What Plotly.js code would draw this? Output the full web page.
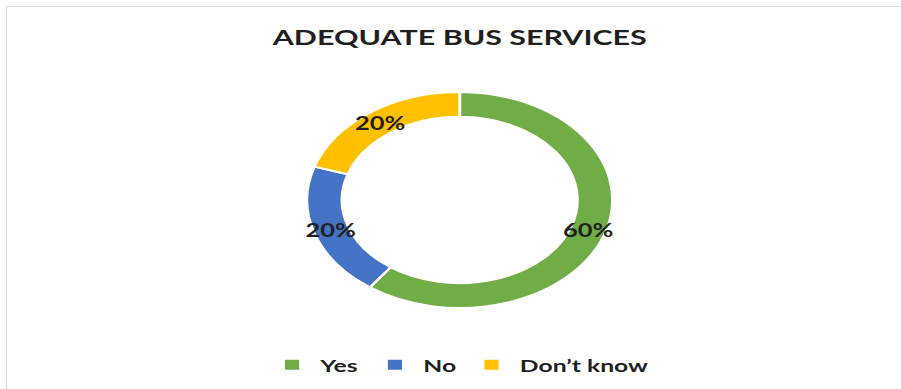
<!DOCTYPE html>
<html>
<head>
<meta charset="utf-8">
<script src="https://cdn.plot.ly/plotly-3.0.1.min.js"></script>
<style>
  html, body { margin: 0; padding: 0; background: #ffffff; overflow: hidden; }
  #frame { position: absolute; left: 6px; top: 6px; width: 1000px; height: 1000px;
           border-left: 1px solid #d9d9d9; border-top: 1px solid #d9d9d9; }
  #wrap { position: absolute; left: 0; top: 0; width: 901px; height: 389px; overflow: hidden; }
  #chart { position: absolute; left: 0; top: 0; width: 637px; height: 389px;
           transform: scaleX(1.4145); transform-origin: 0 0; }
</style>
</head>
<body>
<div id="frame"></div>
<div id="wrap"><div id="chart"></div></div>
<script>
const chartTitle = "ADEQUATE BUS SERVICES";
const categories = ["Yes", "No", "Don\u2019t know"];
const values = [60, 20, 20];
const colors = ["#70AD47", "#4472C4", "#FFC000"];

const fontFamily = "Lato, Open Sans, DejaVu Sans, sans-serif";
const W = 637, H = 389;
const margin = { l: 20, r: 7, t: 92, b: 80 };
const hole = 0.77;

const trace = {
  type: "pie",
  labels: categories,
  values: values,
  sort: false,
  direction: "clockwise",
  rotation: 0,
  hole: hole,
  marker: { colors: colors, line: { color: "#ffffff", width: 2 } },
  textinfo: "none",
  textposition: "none",
  hoverinfo: "label+percent"
};

// Percent labels centred on each slice's mid-angle, at mid-ring radius (derived from the data)
const plotW = W - margin.l - margin.r;
const plotH = H - margin.t - margin.b;
const radiusPx = Math.min(plotW, plotH) / 2;
const midR = radiusPx * (1 + hole) / 2;
const total = values.reduce((a, b) => a + b, 0);
let cum = 0;
const annotations = values.map((v) => {
  const mid = (cum + v / 2) / total * 2 * Math.PI;
  cum += v;
  return {
    xref: "paper", yref: "paper",
    x: 0.5 + midR * Math.sin(mid) / plotW,
    y: 0.5 + midR * Math.cos(mid) / plotH,
    text: "<b>" + Math.round(v / total * 100) + "%</b>",
    showarrow: false,
    font: { family: fontFamily, size: 18, color: "#1f1f1f" },
    xanchor: "center", yanchor: "middle"
  };
});

const layout = {
  width: W,
  height: H,
  margin: margin,
  paper_bgcolor: "rgba(0,0,0,0)",
  plot_bgcolor: "rgba(0,0,0,0)",
  showlegend: true,
  annotations: annotations,
  title: {
    text: "<b>" + chartTitle + "</b>",
    font: { family: fontFamily, size: 21.5, color: "#1f1f1f" },
    x: 0.5, xref: "paper",
    y: 1 - 37 / 389, yref: "container", yanchor: "middle"
  },
  legend: {
    orientation: "h",
    x: 0.5, xanchor: "center",
    y: -0.258, yanchor: "middle",
    font: { family: fontFamily, size: 17.5, color: "#1f1f1f", weight: "bold" },
    itemwidth: 30,
    traceorder: "normal"
  }
};

Plotly.newPlot("chart", [trace], layout, { displayModeBar: false, staticPlot: true });
</script>
</body>
</html>
